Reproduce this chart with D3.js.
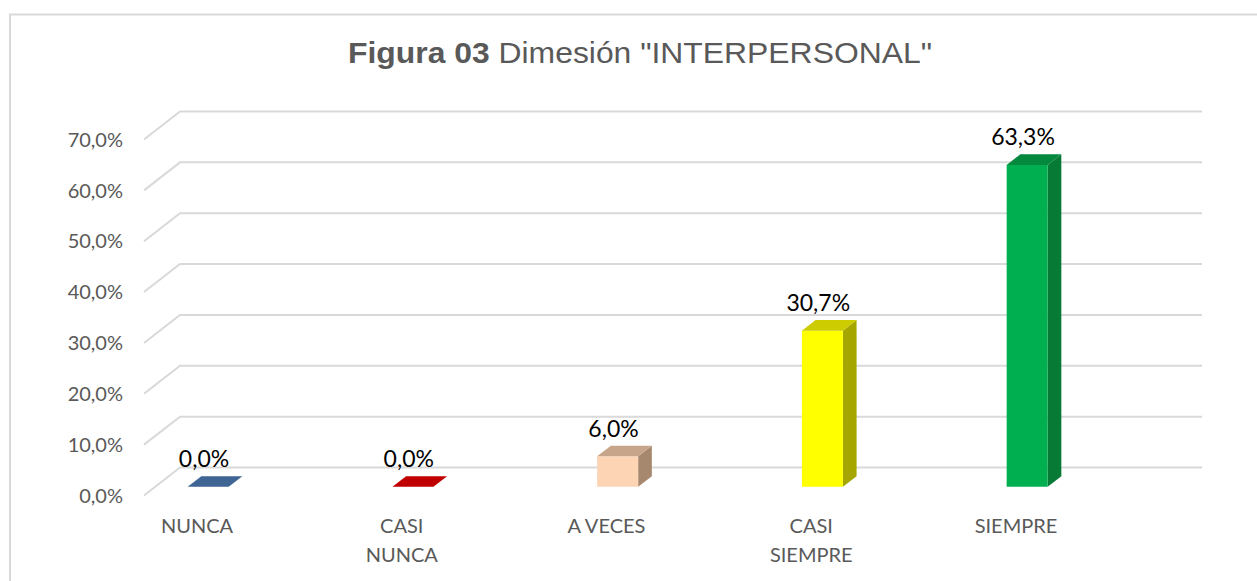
<!DOCTYPE html>
<html lang="es">
<head>
    <meta charset="UTF-8">
    <title>Figura 03 Dimesión INTERPERSONAL</title>
    <script src="https://d3js.org/d3.v7.min.js"></script>
    <style>
        body { margin: 0; background: #fff; }
        svg { display: block; }
        .ytick { font-family: Lato, sans-serif; font-size: 20px; fill: #595959; }
        .xtick { font-family: Lato, sans-serif; font-size: 20px; fill: #595959; }
        .dlabel { font-family: Lato, sans-serif; font-size: 23px; fill: #000; }
    </style>
</head>
<body>
    <svg id="chart"></svg>
    <script>
        // data
        const categories = ['NUNCA', 'CASI NUNCA', 'A VECES', 'CASI SIEMPRE', 'SIEMPRE'];
        const categoryLines = [['NUNCA'], ['CASI', 'NUNCA'], ['A VECES'], ['CASI', 'SIEMPRE'], ['SIEMPRE']];
        const values = [0.0, 0.0, 6.0, 30.7, 63.3];
        const yTicks = [0, 10, 20, 30, 40, 50, 60, 70];
        const frontColors = ['#4a74a8', '#d00000', '#fdd4b4', '#ffff00', '#00b050'];
        const topColors = ['#3e6594', '#c00000', '#c7a58a', '#cccc00', '#03893d'];
        const sideColors = ['#345580', '#a00000', '#a6886f', '#a6a600', '#077a36'];

        const width = 1257;
        const height = 581;

        const svg = d3.select('#chart')
            .attr('width', width)
            .attr('height', height);

        // chart border
        svg.append('rect')
            .attr('x', 10).attr('y', 14.5)
            .attr('width', 1300).attr('height', 700)
            .attr('fill', 'none')
            .attr('stroke', '#d9d9d9')
            .attr('stroke-width', 2);

        // title
        const title = svg.append('text')
            .attr('x', 640).attr('y', 63)
            .attr('text-anchor', 'middle')
            .attr('font-family', '"Liberation Sans", Arial, sans-serif')
            .attr('font-size', 29)
            .attr('fill', '#595959');
        title.append('tspan').attr('font-weight', 'bold').text('Figura 03');
        title.append('tspan').text(' Dimesión "INTERPERSONAL"');
        title.attr('textLength', 584).attr('lengthAdjust', 'spacingAndGlyphs');

        // scales (front plane)
        const y = d3.scaleLinear().domain([0, 70]).range([495.5, 139.5]);
        const x = d3.scalePoint().domain(categories).range([197, 1016]);

        // depth offset of the back wall
        const depthX = 36, depthY = -28;
        const proj = (px, py, d) => [px + depthX * d, py + depthY * d];

        // gridlines: side wall diagonal + back wall horizontal
        const backRight = 1202;
        svg.append('g').selectAll('path')
            .data(yTicks)
            .join('path')
            .attr('d', v => {
                const f = [144, y(v)];
                const b = proj(144, y(v), 1);
                return `M${f[0]},${f[1]}L${b[0]},${b[1]}L${backRight},${b[1]}`;
            })
            .attr('fill', 'none')
            .attr('stroke', '#d9d9d9')
            .attr('stroke-width', 2);

        // y tick labels
        svg.append('g').selectAll('text')
            .data(yTicks)
            .join('text')
            .attr('class', 'ytick')
            .attr('x', 123)
            .attr('y', v => y(v))
            .attr('dy', '0.36em')
            .attr('text-anchor', 'end')
            .text(v => d3.format('.1f')(v).replace('.', ',') + '%');

        // bars (3D boxes)
        const barHalf = 20.5;
        const d0 = 0.31, d1 = 0.69;
        const bars = svg.append('g').selectAll('g')
            .data(categories.map((c, i) => ({ c, v: values[i], i })))
            .join('g');

        const poly = pts => 'M' + pts.map(p => p.join(',')).join('L') + 'Z';

        bars.each(function (d) {
            const g = d3.select(this);
            const xl = x(d.c) - barHalf, xr = x(d.c) + barHalf;
            const yb = y(0), yt = y(d.v);
            const flt = proj(xl, yt, d0), frt = proj(xr, yt, d0);
            const frb = proj(xr, yb, d0), flb = proj(xl, yb, d0);
            const blt = proj(xl, yt, d1), brt = proj(xr, yt, d1), brb = proj(xr, yb, d1);
            if (d.v > 0) {
                g.append('path').attr('d', poly([frt, brt, brb, frb])).attr('fill', sideColors[d.i]);
                g.append('path').attr('d', poly([flb, frb, frt, flt])).attr('fill', frontColors[d.i]);
            }
            g.append('path').attr('d', poly([flt, frt, brt, blt])).attr('fill', topColors[d.i]);

            // data label
            g.append('text')
                .attr('class', 'dlabel')
                .attr('x', x(d.c) + 7)
                .attr('y', blt[1] - 9)
                .attr('text-anchor', 'middle')
                .text(d3.format('.1f')(d.v).replace('.', ',') + '%');
        });

        // category labels
        svg.append('g').selectAll('text')
            .data(categories.map((c, i) => ({ c, lines: categoryLines[i] })))
            .join('text')
            .attr('class', 'xtick')
            .attr('x', d => x(d.c))
            .attr('y', 533)
            .attr('text-anchor', 'middle')
            .each(function (d) {
                d3.select(this).selectAll('tspan')
                    .data(d.lines)
                    .join('tspan')
                    .attr('x', x(d.c))
                    .attr('dy', (l, k) => k === 0 ? 0 : 29)
                    .text(l => l);
            });
    </script>
</body>
</html>
